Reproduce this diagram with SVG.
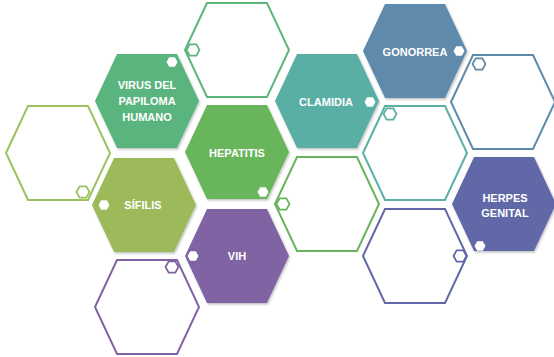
<svg xmlns="http://www.w3.org/2000/svg" xmlns:xlink="http://www.w3.org/1999/xlink" width="554" height="357" viewBox="0 0 554 357">
<style>
.lbl{font-family:"Liberation Sans",Arial,sans-serif;font-weight:bold;font-size:11px;fill:#fff;text-anchor:middle}
.ol{fill:#fff;stroke-width:2}
.dot{fill:#fff}
.odot{fill:#fff;stroke-width:1.8}
</style>
<defs>
<path id="hex" d="M-52,0 L-30,-47 L30,-47 L52,0 L30,47 L-30,47 Z"/>
<path id="sh" d="M-5.5,0 L-2.8,-4.8 L2.8,-4.8 L5.5,0 L2.8,4.8 L-2.8,4.8 Z"/>
<path id="sho" d="M-6.5,0 L-3.3,-5.6 L3.3,-5.6 L6.5,0 L3.3,5.6 L-3.3,5.6 Z"/>
<filter id="sd" x="-20%" y="-20%" width="140%" height="140%">
<feDropShadow dx="1" dy="1.5" stdDeviation="1.2" flood-color="#000" flood-opacity="0.25"/>
</filter>
</defs>
<g id="outlines">
<g id="o1" stroke="#5db57b"><use xlink:href="#hex" x="237" y="50" class="ol"/><use xlink:href="#sho" x="193" y="50" class="odot"/></g>
<g id="o2" stroke="#9cc25e"><use xlink:href="#hex" x="58" y="153" class="ol"/><use xlink:href="#sho" x="83" y="192" class="odot"/></g>
<g id="o3" stroke="#8064a2"><use xlink:href="#hex" x="147" y="307" class="ol"/><use xlink:href="#sho" x="172" y="267" class="odot"/></g>
<g id="o4" stroke="#69b55c"><use xlink:href="#hex" x="327" y="204" class="ol"/><use xlink:href="#sho" x="283" y="204" class="odot"/></g>
<g id="o5" stroke="#5bb0a6"><use xlink:href="#hex" x="415" y="153" class="ol"/><use xlink:href="#sho" x="390" y="114" class="odot"/></g>
<g id="o6" stroke="#5e8bab"><use xlink:href="#hex" x="503" y="102" class="ol"/><use xlink:href="#sho" x="479" y="64" class="odot"/></g>
<g id="o7" stroke="#6167a8"><use xlink:href="#hex" x="415" y="256" class="ol"/><use xlink:href="#sho" x="460" y="256" class="odot"/></g>
</g>
<g id="virus">
<use xlink:href="#hex" x="147" y="101" fill="#5ab47d" filter="url(#sd)"/>
<use xlink:href="#sh" x="172" y="62" class="dot"/>
<text class="lbl" x="147" y="89">VIRUS DEL</text>
<text class="lbl" x="147" y="105">PAPILOMA</text>
<text class="lbl" x="147" y="121">HUMANO</text>
</g>
<g id="hepatitis">
<use xlink:href="#hex" x="237" y="152" fill="#69b55c" filter="url(#sd)"/>
<use xlink:href="#sh" x="263" y="192" class="dot"/>
<text class="lbl" x="237" y="157">HEPATITIS</text>
</g>
<g id="clamidia">
<use xlink:href="#hex" x="327" y="101" fill="#5aafa5" filter="url(#sd)"/>
<use xlink:href="#sh" x="370" y="102" class="dot"/>
<text class="lbl" x="326" y="106">CLAMIDIA</text>
</g>
<g id="gonorrea">
<use xlink:href="#hex" x="415" y="51" fill="#5e8aab" filter="url(#sd)"/>
<use xlink:href="#sh" x="459" y="51" class="dot"/>
<text class="lbl" x="415" y="56">GONORREA</text>
</g>
<g id="herpes">
<use xlink:href="#hex" x="504" y="204" fill="#6168a8" filter="url(#sd)"/>
<use xlink:href="#sh" x="480" y="246" class="dot"/>
<text class="lbl" x="505" y="202">HERPES</text>
<text class="lbl" x="505" y="217">GENITAL</text>
</g>
<g id="sifilis">
<use xlink:href="#hex" x="144" y="205" fill="#9cba5a" filter="url(#sd)"/>
<use xlink:href="#sh" x="104" y="205" class="dot"/>
<text class="lbl" x="143" y="209">SÍFILIS</text>
</g>
<g id="vih">
<use xlink:href="#hex" x="237" y="256" fill="#8064a2" filter="url(#sd)"/>
<use xlink:href="#sh" x="193" y="256" class="dot"/>
<text class="lbl" x="237" y="260">VIH</text>
</g>
<g id="connectors"/>
</svg>
